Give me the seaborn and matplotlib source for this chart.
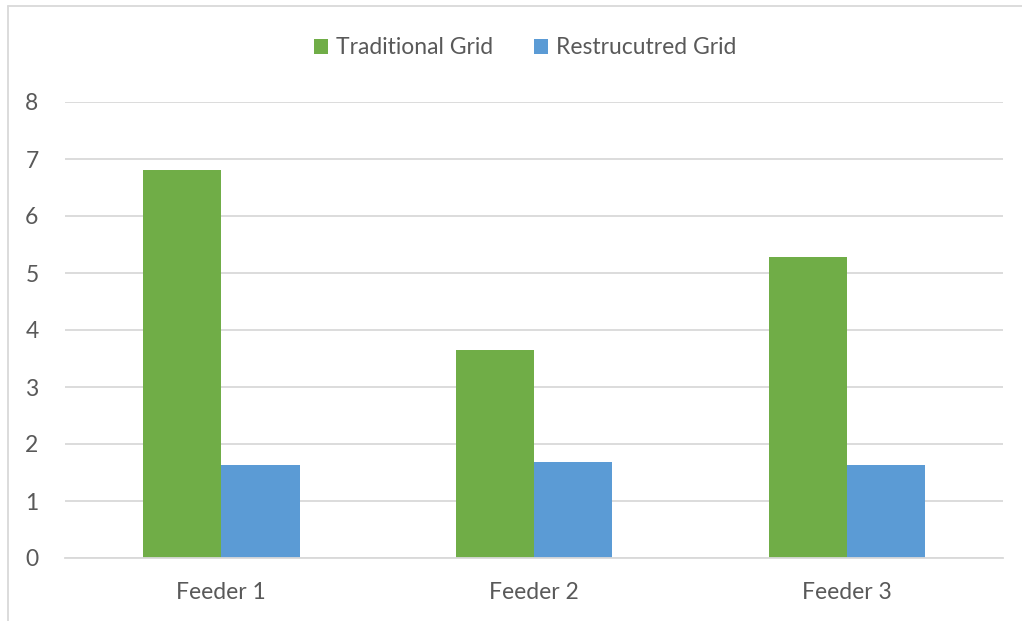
import matplotlib
matplotlib.use("Agg")
import matplotlib.pyplot as plt
import seaborn as sns
import pandas as pd
from matplotlib.lines import Line2D
from matplotlib.patches import Patch

categories = ["Feeder 1", "Feeder 2", "Feeder 3"]
traditional = [6.8, 3.65, 5.28]
restructured = [1.63, 1.68, 1.63]
series_names = ["Traditional Grid", "Restrucutred Grid"]
y_ticks = [0, 1, 2, 3, 4, 5, 6, 7, 8]

df = pd.DataFrame({
    "Feeder": categories * 2,
    "Value": traditional + restructured,
    "Series": [series_names[0]] * 3 + [series_names[1]] * 3,
})

sns.set_theme(style="white")
plt.rcParams["font.family"] = ["Lato", "DejaVu Sans"]

GREEN = "#70AD47"
BLUE = "#5B9BD5"
TXT = "#595959"
FS = 16.5

fig = plt.figure(figsize=(10.22, 6.21), dpi=100)
ax = fig.add_axes([65 / 1022, 1 - 558 / 621, (1003 - 65) / 1022, (558 - 102) / 621])

sns.barplot(data=df, x="Feeder", y="Value", hue="Series", palette=[GREEN, BLUE],
            saturation=1, width=0.5, gap=0, linewidth=0, ax=ax, legend=False)

ax.set_xlim(-0.5, 2.5)
ax.set_ylim(0, 8)
ax.set_yticks(y_ticks)
ax.yaxis.grid(True, color="#D9D9D9", linewidth=1.3)
ax.set_axisbelow(True)
for s in ["top", "right", "left"]:
    ax.spines[s].set_visible(False)
ax.spines["bottom"].set_color("#D9D9D9")
ax.spines["bottom"].set_linewidth(1.3)
ax.set_xlabel("")
ax.set_ylabel("")
ax.tick_params(axis="y", length=0, pad=19, labelsize=FS, labelcolor=TXT)
ax.tick_params(axis="x", length=0, pad=17.5, labelsize=FS, labelcolor=TXT)

handles = [Patch(facecolor=GREEN, edgecolor="none"), Patch(facecolor=BLUE, edgecolor="none")]
fig.legend(handles, series_names, loc="center", bbox_to_anchor=(525 / 1022, 1 - 48 / 621),
           ncol=2, frameon=False, fontsize=FS, labelcolor=TXT, handlelength=0.6,
           handleheight=0.6, handletextpad=0.35, columnspacing=1.8)

# outer chart frame (only left and top edges visible)
fig.add_artist(Line2D([8 / 1022, 8 / 1022], [1 - 6 / 621, 0], transform=fig.transFigure,
                      color="#D9D9D9", linewidth=1.3))
fig.add_artist(Line2D([8 / 1022, 1], [1 - 6 / 621, 1 - 6 / 621], transform=fig.transFigure,
                      color="#D9D9D9", linewidth=1.3))

fig.savefig("out.png", dpi=100, facecolor="white")
